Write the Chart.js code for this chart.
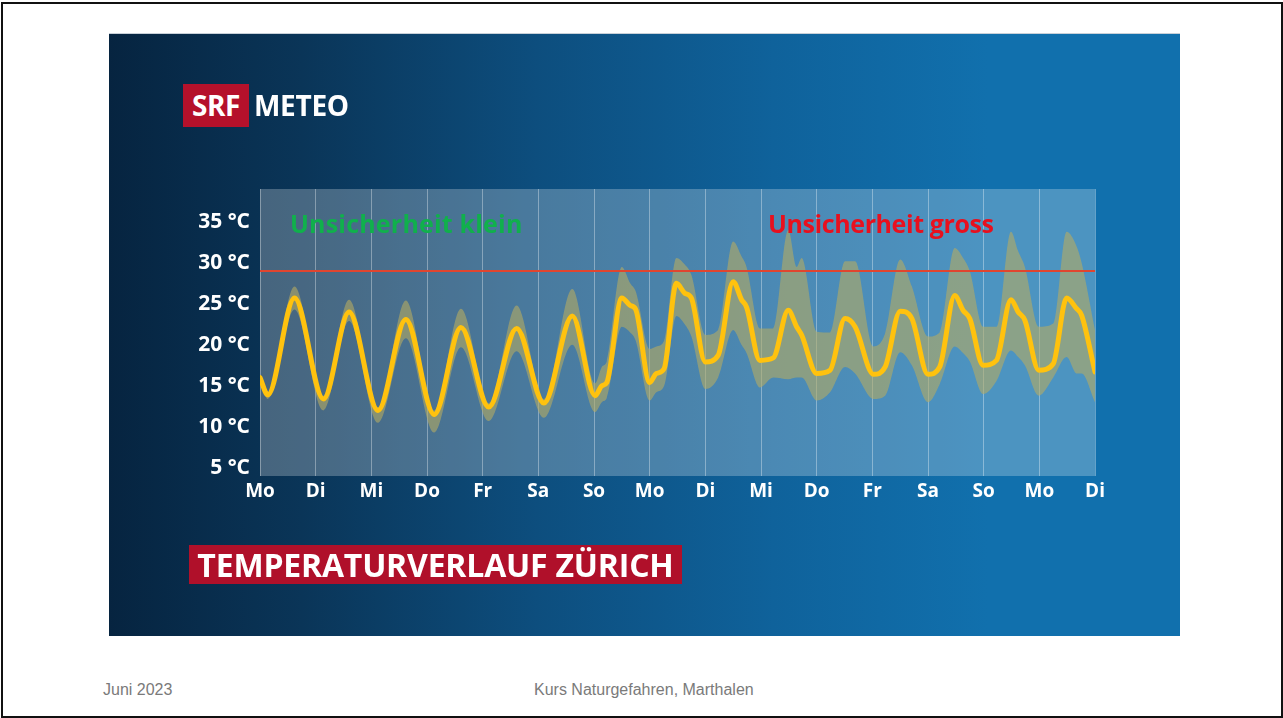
<!DOCTYPE html>
<html>
<head>
<meta charset="utf-8">
<script src="https://cdn.jsdelivr.net/npm/chart.js@4/dist/chart.umd.min.js"></script>
<style>
  html, body { margin:0; padding:0; background:#fff; width:1283px; height:718px; overflow:hidden; }
  #frame { position:absolute; left:1px; top:2px; width:1278px; height:712px; border:2px solid #111; }
  #panel { position:absolute; left:109px; top:33px; width:1071px; height:602px;
    background: linear-gradient(90deg, #062440 0%, #0a3558 18%, #0d4e7e 40%, #0f629b 62%, #1170ad 82%, #1170ad 100%);
    border-top:1px solid #c8d0d8; }
  #chart { position:absolute; left:109px; top:33px; }
  .lbl { position:absolute; font-family:"Open Sans", sans-serif; font-weight:700; white-space:nowrap; }
  #srf { left:183px; top:84px; width:66px; height:43px; background:#b5112b; color:#fff; font-size:28px; line-height:43px; text-align:center; letter-spacing:-0.5px; }
  #meteo { left:254px; top:84px; color:#fff; font-size:28px; line-height:43px; letter-spacing:-0.3px; }
  #title { left:189px; top:545px; width:493px; height:39px; background:#b0102a; color:#fff; font-size:32px; line-height:39px; text-align:center; letter-spacing:-0.2px; }
  #klein { left:290px; top:206px; color:#10b04c; font-size:25px; line-height:34px; letter-spacing:0.2px; }
  #gross { left:768px; top:206px; color:#e8101e; font-size:25px; line-height:34px; letter-spacing:-0.4px; }
  .foot { position:absolute; font-family:"Liberation Sans", sans-serif; font-size:16px; color:#7a7a7a; top:681px; }
</style>
</head>
<body>
<div id="frame"></div>
<div id="panel"></div>
<canvas id="chart" width="1071" height="602"></canvas>
<div class="lbl" id="srf">SRF</div>
<div class="lbl" id="meteo">METEO</div>
<div class="lbl" id="klein">Unsicherheit klein</div>
<div class="lbl" id="gross">Unsicherheit gross</div>
<div class="lbl" id="title">TEMPERATURVERLAUF ZÜRICH</div>
<div class="foot" style="left:103px;">Juni 2023</div>
<div class="foot" style="left:534px;">Kurs Naturgefahren, Marthalen</div>
<script>
// ---- data ----
const dayLabels = ['Mo','Di','Mi','Do','Fr','Sa','So','Mo','Di','Mi','Do','Fr','Sa','So','Mo','Di'];
const yTickValues = [5,10,15,20,25,30,35];
const threshold = 29;
// time in days from start
const times = [0,0.14,0.62,1.14,1.60,2.12,2.62,3.13,3.61,4.11,4.61,5.10,5.61,6.02,6.14,6.23,6.50,6.65,6.75,7.00,7.12,7.26,7.48,7.63,7.75,8.00,8.23,8.50,8.65,8.74,8.98,9.22,9.49,9.64,9.73,10.00,10.24,10.51,10.69,11.02,11.23,11.50,11.71,12.00,12.21,12.48,12.63,12.75,12.99,13.23,13.49,13.62,13.74,13.99,14.25,14.49,14.67,14.76,15.00];
const temps = [16.0,13.9,25.7,13.4,24.0,12.0,23.1,11.5,22.1,12.4,22.0,12.9,23.5,13.8,15.0,15.4,25.7,24.8,24.3,15.4,16.5,17.1,27.5,26.3,25.7,17.9,18.7,27.7,25.5,24.6,18.1,18.4,24.2,22.2,21.2,16.5,16.9,23.2,22.2,16.4,17.3,24.1,23.2,16.4,17.3,26.0,24.2,23.2,17.5,18.1,25.5,24.0,23.0,16.9,17.7,25.7,24.4,23.6,16.7];
const upper = [16.4,14.2,27.1,13.8,25.5,12.4,25.4,12.0,24.4,12.9,24.8,13.4,26.8,15.3,17.3,18.0,29.5,27.5,26.5,19.5,19.8,20.5,30.6,29.8,28.5,21.2,21.8,32.6,30.8,29.5,22.0,22.0,34.0,29.5,30.6,21.6,21.5,30.2,30.2,19.8,21.4,30.4,27.1,21.0,21.5,31.8,30.6,29.0,22.2,22.2,33.8,31.4,29.5,22.2,22.6,33.8,32.0,30.0,21.8];
const lower = [15.6,13.4,24.3,12.0,22.9,10.5,20.8,9.3,19.7,10.7,19.2,11.1,20.0,11.8,13.0,13.5,22.2,21.5,20.5,13.2,14.2,15.0,23.5,22.5,21.0,14.6,16.0,21.8,20.0,19.0,14.8,16.0,15.8,16.0,16.0,13.2,14.2,17.3,16.5,13.4,13.8,19.1,17.5,13.0,15.2,19.8,19.0,18.0,14.0,15.6,19.3,18.5,17.5,13.8,16.0,18.5,16.5,16.5,13.0];

const pts = arr => times.map((t,i)=>({x:t, y:arr[i]}));

const plotBg = {
  id:'plotBg',
  beforeDraw(chart){
    const {ctx, chartArea:a} = chart;
    ctx.save();
    ctx.fillStyle = 'rgba(255,255,255,0.25)';
    ctx.fillRect(a.left, a.top, a.right-a.left, a.bottom-a.top);
    ctx.restore();
  }
};

new Chart(document.getElementById('chart'), {
  type:'line',
  data:{
    datasets:[
      { data: pts(temps), borderColor:'#ffc20e', borderWidth:5, pointRadius:0, fill:false,
        cubicInterpolationMode:'monotone', borderCapStyle:'round', borderJoinStyle:'round', order:0 },
      { data:[{x:0,y:threshold},{x:15,y:threshold}], borderColor:'#e0452f', borderWidth:2, pointRadius:0, fill:false, order:1 },
      { data: pts(upper), borderWidth:0, borderColor:'rgba(0,0,0,0)', pointRadius:0, fill:'+1',
        backgroundColor:'rgba(181,171,99,0.6)', cubicInterpolationMode:'monotone', order:2 },
      { data: pts(lower), borderWidth:0, borderColor:'rgba(0,0,0,0)', pointRadius:0, fill:false,
        cubicInterpolationMode:'monotone', order:3 }
    ]
  },
  options:{
    responsive:false, animation:false,
    layout:{ padding:{ left:0, top:156, right:85, bottom:129 } },
    plugins:{ legend:{display:false}, tooltip:{enabled:false} },
    scales:{
      x:{
        type:'linear', min:0, max:15,
        afterBuildTicks(s){ s.ticks = dayLabels.map((_,i)=>({value:i})); },
        afterFit(s){ s.height = 30; },
        ticks:{ color:'#fff', font:{family:'Open Sans', weight:'bold', size:19}, padding:4,
          maxRotation:0, autoSkip:false, callback:v=>dayLabels[v] },
        grid:{ color:'rgba(255,255,255,0.35)', lineWidth:1, drawTicks:false },
        border:{ display:false }
      },
      y:{
        min:4, max:39,
        afterBuildTicks(s){ s.ticks = yTickValues.map(v=>({value:v})); },
        afterFit(s){ s.width = 151; },
        ticks:{ color:'#fff', font:{family:'Open Sans', weight:'bold', size:21}, padding:10,
          callback:v=>v+' °C' },
        grid:{ display:false, drawTicks:false },
        border:{ display:false }
      }
    }
  },
  plugins:[plotBg]
});
</script>
</body>
</html>
